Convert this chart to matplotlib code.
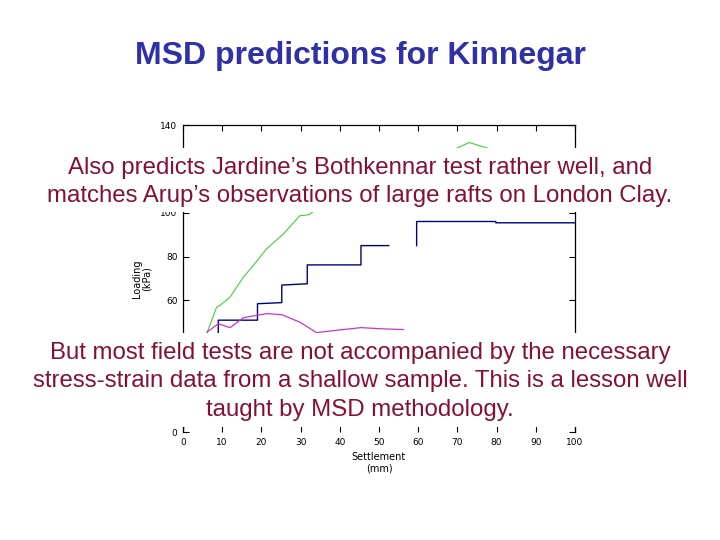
import numpy as np
import matplotlib
matplotlib.use("Agg")
import matplotlib.pyplot as plt
from matplotlib.patches import Rectangle

# curves (settlement mm, loading kPa)
green_x = [0, 3, 6.2, 8.6, 9.4, 12.0, 15.4, 17.9, 21.3, 25.6, 29.8, 32.2, 40, 50, 60, 69.8, 73, 77.8, 82]
green_y = [0, 25, 45.6, 57.0, 57.7, 61.5, 70.6, 75.9, 83.5, 90.3, 98.6, 99.1, 110, 119, 125, 129.4, 132, 129.4, 127]

blue_x = [9, 9, 19, 19, 25.2, 25.2, 31.7, 31.7, 45.4, 45.4, 52.5, np.nan, 59.6, 59.6, 79.8, 79.8, 100]
blue_y = [30, 51, 51, 58.5, 59, 67, 67.6, 76.2, 76.2, 85, 85, np.nan, 85, 96, 96, 95.4, 95.4]

mag_x = [3, 6.2, 9, 12, 15.4, 21.3, 25.2, 29.8, 34.1, 39.2, 45.4, 50.3, 56.2]
mag_y = [30, 45.6, 49.4, 47.6, 52.1, 54, 53.5, 50.1, 45.3, 46.4, 47.6, 47.1, 46.7]

x_ticks = list(range(0, 101, 10))
y_ticks = list(range(0, 141, 20))
# labels for 20, 40 and 120 sit under the text boxes on the slide
y_labels = ["0", "", "", "60", "80", "100", "", "140"]

title = "MSD predictions for Kinnegar"
note_top = ["Also predicts Jardine\u2019s Bothkennar test rather well, and",
            "matches Arup\u2019s observations of large rafts on London Clay."]
note_bottom = ["But most field tests are not accompanied by the necessary",
               "stress-strain data from a shallow sample. This is a lesson well",
               "taught by MSD methodology."]

W, H = 720, 540
fig = plt.figure(figsize=(7.2, 5.4), dpi=100)
ax = fig.add_axes([183 / W, 1 - 432 / H, 392 / W, 307 / H])

ax.plot(green_x, green_y, color="#44cc44", lw=0.8)
ax.plot(blue_x, blue_y, color="#000080", lw=1.0)
ax.plot(mag_x, mag_y, color="#cc33cc", lw=0.9)

ax.set_xlim(0, 100)
ax.set_ylim(0, 140)
ax.set_xticks(x_ticks)
ax.set_yticks(y_ticks)
ax.set_yticklabels(y_labels)
ax.tick_params(direction="in", length=4, width=0.8, labelsize=6.5, top=True, right=True,
               pad=4)
ax.spines["bottom"].set_visible(False)
for s in ["left", "right", "top"]:
    ax.spines[s].set_linewidth(0.9)
ax.set_xlabel("Settlement\n(mm)", fontsize=7, labelpad=4, linespacing=1.2)
ax.set_ylabel("Loading\n(kPa)", fontsize=7, labelpad=6, linespacing=1.0)

fig.text(0.5, 1 - 56 / H, title, ha="center", va="center", fontsize=23,
         fontweight="bold", color="#3030a8", family="Liberation Sans")

# white text boxes laid over the chart
fig.add_artist(Rectangle((30 / W, 1 - 212 / H), 660 / W, 64 / H, transform=fig.transFigure,
                         facecolor="white", edgecolor="none", zorder=5))
fig.add_artist(Rectangle((25 / W, 1 - 427 / H), 670 / W, 94 / H, transform=fig.transFigure,
                         facecolor="white", edgecolor="none", zorder=5))

for i, line in enumerate(note_top):
    fig.text(0.5, 1 - (168 + 28 * i) / H, line, ha="center", va="center", fontsize=17.3,
             color="#861035", family="Liberation Sans", zorder=6)
for i, line in enumerate(note_bottom):
    fig.text(0.5, 1 - (353 + 28.5 * i) / H, line, ha="center", va="center", fontsize=17.3,
             color="#861035", family="Liberation Sans", zorder=6)

fig.savefig("out.png", dpi=100, facecolor="white")
